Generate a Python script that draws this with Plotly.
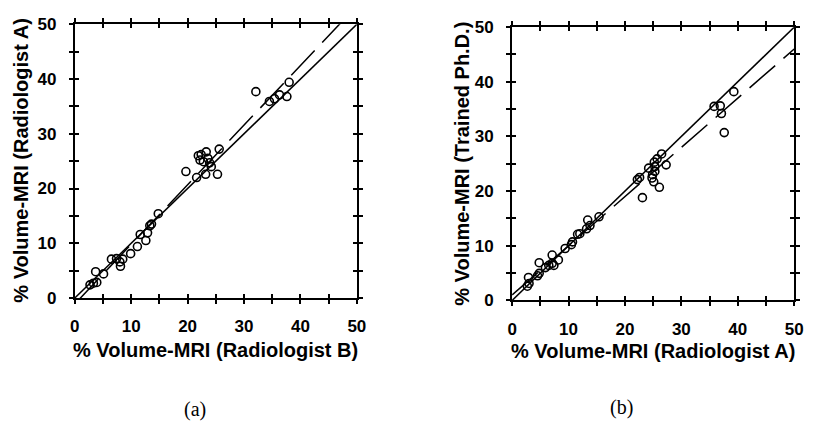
import plotly.graph_objects as go

# Panel (a): Radiologist B (x) vs Radiologist A (y), % volume on MRI
rad_b = [2.7, 3.3, 3.9, 3.7, 5.1, 6.5, 7.4, 8.0, 8.1, 8.5, 9.9, 11.1, 11.6, 12.6,
         12.9, 13.3, 13.6, 14.8, 19.7, 21.6, 21.9, 22.4, 22.2, 22.8, 23.3, 23.6,
         23.9, 24.2, 23.2, 25.3, 25.6, 32.1, 34.5, 36.3, 37.6, 38.0, 35.4]
rad_a = [2.4, 2.7, 2.85, 4.8, 4.4, 7.1, 7.2, 6.6, 5.8, 7.1, 8.1, 9.4, 11.6, 10.5,
         11.9, 13.2, 13.5, 15.4, 23.1, 22.0, 26.0, 26.2, 25.2, 24.9, 26.7, 25.5,
         24.7, 24.0, 22.6, 22.6, 27.2, 37.7, 35.9, 37.1, 36.8, 39.4, 36.4]

# Panel (b): Radiologist A (x) vs Trained Ph.D. (y)
rad_a_b = [2.7, 3.0, 2.9, 4.5, 4.8, 4.8, 5.9, 6.5, 7.1, 7.1, 7.4, 8.2, 9.4, 10.5,
           10.7, 11.6, 12.0, 13.2, 13.4, 13.8, 15.4, 22.2, 22.6, 23.1, 24.2, 25.2,
           25.7, 26.5, 25.3, 24.9, 24.8, 25.1, 26.1, 27.3, 25.3, 35.8, 36.9, 37.1,
           37.6, 39.3]
phd = [2.6, 3.1, 4.2, 4.5, 4.95, 6.9, 6.0, 6.4, 6.8, 8.3, 6.4, 7.4, 9.5, 10.2,
       10.7, 12.1, 12.2, 13.1, 14.7, 13.7, 15.3, 22.1, 22.5, 18.8, 24.2, 25.3,
       25.9, 26.8, 23.6, 23.0, 22.4, 21.7, 20.7, 24.8, 24.5, 35.5, 35.6, 34.2,
       30.7, 38.2]

# Fitted regression lines (slope, intercept) and the line of identity
fit_a = (1.089, -1.09)
fit_b = (0.90, 1.0)
line_x = [0, 50]

tick_vals = [0, 5, 10, 15, 20, 25, 30, 35, 40, 45, 50]
tick_text = ["0", "", "10", "", "20", "", "30", "", "40", "", "50"]

FONT = "Liberation Sans, Arial, sans-serif"
SERIF = "Liberation Serif, Times New Roman, serif"

fig = go.Figure()


def add_panel(xs, ys, fit, xa, ya):
    fig.add_trace(go.Scatter(x=line_x, y=line_x, mode="lines",
                             line=dict(color="black", width=1.5),
                             xaxis=xa, yaxis=ya, showlegend=False))
    fig.add_trace(go.Scatter(x=line_x, y=[fit[0] * v + fit[1] for v in line_x],
                             mode="lines",
                             line=dict(color="black", width=1.5, dash="34px,11px"),
                             xaxis=xa, yaxis=ya, showlegend=False))
    fig.add_trace(go.Scatter(x=xs, y=ys, mode="markers",
                             marker=dict(symbol="circle-open", size=8, color="black",
                                         line=dict(width=1.6, color="black")),
                             xaxis=xa, yaxis=ya, showlegend=False))


add_panel(rad_b, rad_a, fit_a, "x", "y")
add_panel(rad_a_b, phd, fit_b, "x2", "y2")

# Empty traces so the overlay axes (inner halves of the ticks) are drawn
for xa, ya in (("x3", "y3"), ("x4", "y4")):
    fig.add_trace(go.Scatter(x=[None], y=[None], xaxis=xa, yaxis=ya,
                             showlegend=False, hoverinfo="skip"))

tickfont = dict(family=FONT, size=17, color="black")
bold_ticks = [f"<b>{t}</b>" if t else "" for t in tick_text]


def main_axis(domain, anchor, standoff):
    return dict(domain=domain, anchor=anchor, range=[0, 50], tickmode="array",
                tickvals=tick_vals, ticktext=bold_ticks, ticks="outside", ticklen=4,
                tickwidth=1.5, tickcolor="black", showline=True, linecolor="black",
                linewidth=2, mirror="ticks", showgrid=False, zeroline=False,
                tickfont=tickfont, ticklabelstandoff=standoff, fixedrange=True)


def overlay_axis(over, anchor):
    return dict(overlaying=over, anchor=anchor, range=[0, 50], tickmode="array",
                tickvals=tick_vals, ticks="inside", ticklen=4, tickwidth=1.5,
                tickcolor="black", showticklabels=False, showline=False,
                mirror="ticks", showgrid=False, zeroline=False, fixedrange=True)


W, H = 814, 426
lx = [71 / W, 358 / W]
ly = [(H - 302.5) / H, (H - 16) / H]
rx = [516 / W, 803 / W]
ry = [(H - 305) / H, (H - 19) / H]

fig.update_layout(
    width=W, height=H, margin=dict(l=0, r=0, t=0, b=0),
    paper_bgcolor="white", plot_bgcolor="white",
    xaxis=main_axis(lx, "y", 8), yaxis=main_axis(ly, "x", 9),
    xaxis2=main_axis(rx, "y2", 8), yaxis2=main_axis(ry, "x2", 9),
    xaxis3=overlay_axis("x", "y3"), yaxis3=overlay_axis("y", "x3"),
    xaxis4=overlay_axis("x2", "y4"), yaxis4=overlay_axis("y2", "x4"),
)

title_font = dict(family=FONT, size=20, color="black")
annotations = [
    dict(text="% Volume-MRI (Radiologist B)", x=214 / W, y=(H - 357) / H),
    dict(text="% Volume-MRI (Radiologist A)", x=659 / W, y=(H - 358) / H),
    dict(text="% Volume-MRI (Radiologist A)", x=16 / W, y=(H - 159) / H, textangle=-90),
    dict(text="% Volume-MRI (Trained Ph.D.)", x=465 / W, y=(H - 162) / H, textangle=-90),
]
for a in annotations:
    a["text"] = f"<b>{a['text']}</b>"
    fig.add_annotation(xref="paper", yref="paper", showarrow=False,
                       xanchor="center", yanchor="middle", font=title_font, **a)

for label, px, py in (("(a)", 193, 419), ("(b)", 627, 417)):
    fig.add_annotation(text=label, xref="paper", yref="paper", x=px / W, y=(H - py) / H,
                       showarrow=False, xanchor="center", yanchor="middle",
                       font=dict(family=SERIF, size=20, color="black"))

fig.write_html("out.html")
